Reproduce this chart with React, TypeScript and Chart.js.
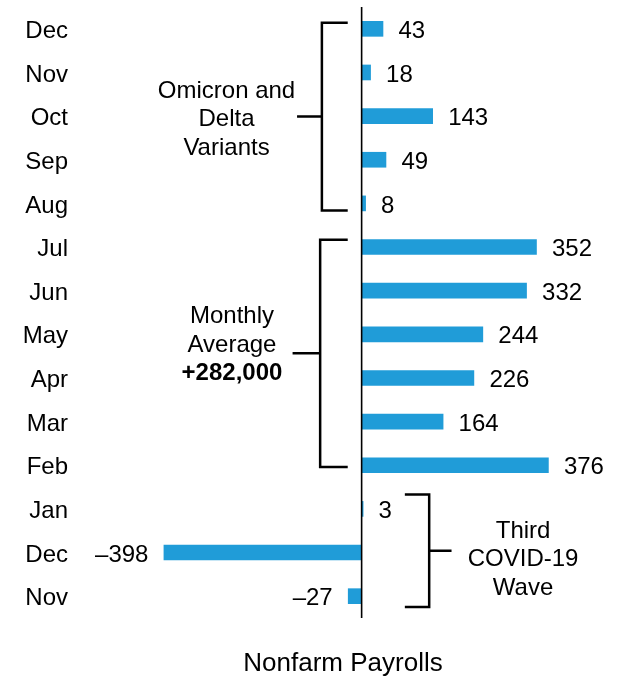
import React, { useEffect, useRef } from 'react';
import { Chart, registerables } from 'chart.js';

Chart.register(...registerables);

const categories = ['Dec', 'Nov', 'Oct', 'Sep', 'Aug', 'Jul', 'Jun', 'May', 'Apr', 'Mar', 'Feb', 'Jan', 'Dec', 'Nov'];
const payrolls = [43, 18, 143, 49, 8, 352, 332, 244, 226, 164, 376, 3, -398, -27];
const axisTitle = 'Nonfarm Payrolls';
const omicronNote = ['Omicron and', 'Delta', 'Variants'];
const averageNote = ['Monthly', 'Average', '+282,000'];
const covidNote = ['Third', 'COVID-19', 'Wave'];

const FONT = '"Liberation Sans", Arial, sans-serif';
const FSIZE = 24;
const BAR_COLOR = 'rgb(32,156,216)';
const TEXT_DY = 2.5;

const fmt = (v: number) => (v < 0 ? '\u2013' + Math.abs(v) : String(v));

type Bracket = {
  top: number; bottom: number; x: number; tickTo: number; stemTo: number;
  lines: string[]; textX: number; textY: number; boldLast: boolean;
};

const brackets: Bracket[] = [
  { top: -0.14, bottom: 4.163, x: -80, tickTo: -28, stemTo: -130, lines: omicronNote, textX: -272, textY: 2.02, boldLast: false },
  { top: 4.833, bottom: 10.04, x: -83.5, tickTo: -28, stemTo: -139, lines: averageNote, textX: -261, textY: 7.19, boldLast: true },
  { top: 10.673, bottom: 13.25, x: 136, tickTo: 87, stemTo: 181, lines: covidNote, textX: 325, textY: 12.1, boldLast: false },
];

const overlayPlugin = {
  id: 'overlay',
  afterDatasetsDraw(chart: any) {
    const ctx = chart.ctx as CanvasRenderingContext2D;
    const xs = chart.scales.x;
    const ys = chart.scales.y;
    const area = chart.chartArea;
    ctx.save();
    // zero line
    const x0 = xs.getPixelForValue(0);
    ctx.strokeStyle = '#000';
    ctx.lineWidth = 1.6;
    ctx.beginPath();
    ctx.moveTo(x0, area.top);
    ctx.lineTo(x0, area.bottom);
    ctx.stroke();

    // value labels
    ctx.fillStyle = '#000';
    ctx.font = `${FSIZE}px ${FONT}`;
    ctx.textBaseline = 'middle';
    const meta = chart.getDatasetMeta(0);
    meta.data.forEach((bar: any, i: number) => {
      const v = payrolls[i];
      const end = xs.getPixelForValue(v);
      if (v >= 0) {
        ctx.textAlign = 'left';
        ctx.fillText(fmt(v), end + 15.5, bar.y + TEXT_DY);
      } else {
        ctx.textAlign = 'right';
        ctx.fillText(fmt(v), end - 15.5, bar.y + TEXT_DY);
      }
    });

    // brackets
    ctx.lineWidth = 2.5;
    ctx.lineCap = 'butt';
    brackets.forEach((b) => {
      const bx = xs.getPixelForValue(b.x);
      const tx = xs.getPixelForValue(b.tickTo);
      const sx = xs.getPixelForValue(b.stemTo);
      const yt = ys.getPixelForValue(b.top);
      const yb = ys.getPixelForValue(b.bottom);
      const ym = (yt + yb) / 2;
      ctx.beginPath();
      ctx.moveTo(tx, yt);
      ctx.lineTo(bx, yt);
      ctx.lineTo(bx, yb);
      ctx.lineTo(tx, yb);
      ctx.moveTo(bx, ym);
      ctx.lineTo(sx, ym);
      ctx.stroke();

      const cx = xs.getPixelForValue(b.textX);
      const cy = ys.getPixelForValue(b.textY);
      ctx.textAlign = 'center';
      ctx.textBaseline = 'middle';
      b.lines.forEach((line, li) => {
        const bold = b.boldLast && li === b.lines.length - 1;
        ctx.font = `${bold ? 'bold ' : ''}${FSIZE}px ${FONT}`;
        ctx.fillText(line, cx, cy + TEXT_DY + (li - 1) * 28.5);
      });
    });
    ctx.restore();
  },
};

export default function App() {
  const ref = useRef<HTMLCanvasElement | null>(null);
  useEffect(() => {
    if (!ref.current) return;
    Chart.defaults.font.family = FONT;
    const chart = new Chart(ref.current, {
      type: 'bar',
      data: {
        labels: categories,
        datasets: [
          {
            data: payrolls,
            backgroundColor: BAR_COLOR,
            borderWidth: 0,
            barThickness: 15,
          },
        ],
      },
      options: {
        indexAxis: 'y',
        animation: false,
        responsive: false,
        layout: { padding: { top: 7, right: 13, left: 0, bottom: 0 } },
        plugins: { legend: { display: false }, tooltip: { enabled: false } },
        scales: {
          x: {
            min: -575,
            max: 500,
            grid: { display: false, drawTicks: false },
            border: { display: false },
            ticks: { display: false },
            title: {
              display: true,
              text: axisTitle,
              color: '#000',
              font: { size: 26, family: FONT, lineHeight: 1.05 },
              padding: { top: 0, bottom: 0 },
            },
            afterFit: (s: any) => { s.height = 59; s.paddingLeft = 0; s.paddingRight = 0; },
          },
          y: {
            grid: { display: false, drawTicks: false },
            border: { display: false },
            ticks: { color: '#000', font: { size: FSIZE, family: FONT }, padding: 8, autoSkip: false, labelOffset: TEXT_DY },
            afterFit: (s: any) => { s.width = 76; s.paddingTop = 0; s.paddingBottom = 0; },
          },
        },
      },
      plugins: [overlayPlugin],
    });
    return () => chart.destroy();
  }, []);
  return (
    <div style={{ position: 'fixed', left: 0, top: 0, width: 623, height: 677, background: '#fff' }}>
      <canvas ref={ref} width={623} height={677} style={{ display: 'block' }} />
    </div>
  );
}
